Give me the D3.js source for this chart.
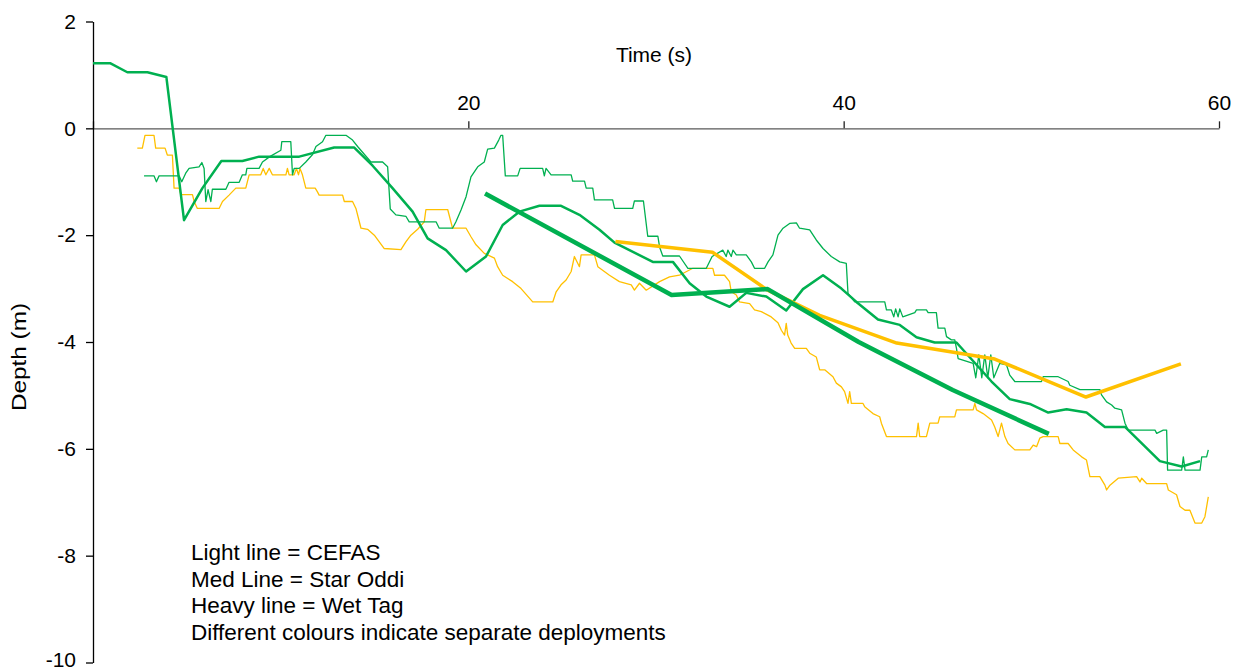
<!DOCTYPE html>
<html>
<head>
<meta charset="utf-8">
<script src="https://cdn.jsdelivr.net/npm/d3@7"></script>
<style>
    body { margin: 0; background: #fff; }
    svg text { font-family: 'Liberation Sans', Arial, sans-serif; fill: #000; }
</style>
</head>
<body>
<svg id="chart" width="1233" height="671"></svg>
<script>
// time (s), depth (m) pairs
const greenCefas = [
    [2.72,-0.89],[3.25,-0.89],[3.38,-1.00],[3.52,-0.89],[4.59,-0.89],[4.73,-1.00],[4.94,-0.84],[5.12,-0.75],
    [5.65,-0.72],[5.80,-0.64],[5.92,-0.75],[6.01,-1.37],[6.13,-1.15],[6.28,-1.37],[6.36,-1.14],[7.08,-1.14],
    [7.25,-1.01],[7.79,-1.01],[7.96,-0.87],[8.14,-0.87],[8.20,-0.75],[8.85,-0.75],[9.03,-0.63],[9.42,-0.53],
    [10.01,-0.41],[10.06,-0.25],[10.54,-0.25],[10.63,-0.87],[10.72,-0.75],[10.99,-0.75],[11.34,-0.63],[11.70,-0.49],
    [11.88,-0.34],[12.23,-0.25],[12.41,-0.13],[13.48,-0.13],[13.83,-0.22],[14.10,-0.34],[14.81,-0.63],[15.43,-0.63],
    [15.70,-0.72],[15.84,-1.51],[16.14,-1.62],[16.68,-1.65],[16.85,-1.75],[18.28,-1.75],[18.45,-1.87],[19.16,-1.87],
    [19.34,-1.75],[19.61,-1.53],[19.88,-1.28],[20.14,-0.91],[20.50,-0.72],[20.85,-0.63],[21.03,-0.39],[21.39,-0.37],
    [21.62,-0.22],[21.74,-0.13],[21.83,-0.13],[21.97,-0.89],[22.63,-0.89],[22.76,-0.75],[23.96,-0.75],[24.05,-0.89],
    [24.14,-0.75],[24.41,-0.87],[25.48,-0.87],[25.56,-0.99],[26.19,-0.99],[26.28,-1.12],[26.63,-1.12],[26.72,-1.34],
    [27.69,-1.34],[27.79,-1.50],[28.76,-1.50],[28.85,-1.36],[29.33,-1.36],[29.56,-2.02],[30.10,-2.02],[30.19,-2.22],
    [30.36,-2.39],[31.25,-2.39],[31.70,-2.62],[32.68,-2.62],[32.99,-2.40],[33.56,-2.28],[33.74,-2.40],[33.83,-2.28],
    [34.01,-2.40],[34.10,-2.28],[34.28,-2.37],[34.81,-2.37],[35.08,-2.50],[35.25,-2.62],[35.79,-2.62],[35.97,-2.50],
    [36.23,-2.37],[36.50,-2.00],[36.77,-1.87],[37.12,-1.78],[37.48,-1.77],[37.65,-1.87],[38.19,-1.90],[38.54,-2.09],
    [38.90,-2.25],[39.34,-2.40],[39.79,-2.50],[40.14,-2.53],[40.23,-3.09],[40.59,-3.25],[42.19,-3.25],[42.28,-3.40],
    [42.54,-3.40],[42.67,-3.53],[42.77,-3.38],[42.90,-3.53],[42.99,-3.38],[43.15,-3.53],[43.79,-3.45],[43.88,-3.40],
    [44.41,-3.40],[44.50,-3.45],[44.94,-3.45],[45.03,-3.74],[45.39,-3.74],[45.48,-3.90],[45.74,-3.96],[45.92,-3.96],
    [46.01,-4.12],[46.10,-4.31],[46.90,-4.40],[47.04,-4.67],[47.20,-4.24],[47.36,-4.67],[47.52,-4.24],[47.68,-4.67],
    [47.84,-4.24],[48.00,-4.67],[48.32,-4.40],[48.68,-4.43],[48.85,-4.62],[49.12,-4.74],[50.54,-4.74],[50.63,-4.65],
    [51.43,-4.65],[51.96,-4.74],[52.05,-4.81],[52.59,-4.89],[53.65,-4.89],[53.74,-4.99],[54.01,-5.12],[54.28,-5.18],
    [54.45,-5.24],[54.81,-5.27],[54.99,-5.52],[55.16,-5.65],[56.59,-5.65],[56.68,-5.71],[57.03,-5.65],[57.21,-5.65],
    [57.26,-6.40],[58.01,-6.40],[58.10,-6.15],[58.19,-6.40],[58.99,-6.40],[59.08,-6.15],[59.34,-6.15],[59.43,-6.02]
];

const yellowCefas = [
    [2.36,-0.37],[2.63,-0.37],[2.77,-0.13],[3.25,-0.13],[3.34,-0.37],[3.84,-0.37],[3.96,-0.50],[4.23,-0.50],
    [4.32,-1.12],[4.59,-1.12],[4.68,-1.24],[5.30,-1.24],[5.39,-1.37],[5.56,-1.50],[6.72,-1.50],[6.90,-1.37],
    [7.25,-1.25],[7.61,-1.12],[8.14,-1.12],[8.32,-0.87],[8.94,-0.87],[9.07,-0.75],[9.21,-0.87],[9.39,-0.75],
    [9.56,-0.87],[10.28,-0.87],[10.36,-0.75],[10.45,-0.87],[10.72,-0.87],[10.84,-0.75],[10.95,-0.87],[11.03,-0.75],
    [11.16,-0.87],[11.34,-1.12],[11.84,-1.12],[11.96,-1.19],[12.05,-1.25],[13.30,-1.25],[13.39,-1.37],[13.83,-1.37],
    [14.01,-1.50],[14.28,-1.87],[14.63,-1.89],[14.99,-2.00],[15.52,-2.25],[16.41,-2.27],[16.68,-2.12],[16.94,-2.00],
    [17.30,-1.89],[17.65,-1.75],[17.74,-1.52],[18.90,-1.52],[19.16,-1.87],[19.88,-1.87],[20.14,-2.03],[20.41,-2.18],
    [20.85,-2.34],[21.39,-2.43],[21.56,-2.59],[21.83,-2.75],[22.36,-2.87],[22.81,-3.00],[23.43,-3.25],[24.50,-3.25],
    [24.68,-3.06],[24.94,-2.93],[25.21,-2.84],[25.48,-2.68],[25.65,-2.40],[25.92,-2.59],[26.01,-2.37],[26.72,-2.37],
    [26.90,-2.59],[27.52,-2.75],[28.05,-2.87],[28.68,-2.93],[28.85,-3.03],[29.12,-2.90],[29.48,-3.03],[30.19,-2.87],
    [30.72,-2.78],[31.25,-2.75],[31.96,-2.62],[33.03,-2.62],[33.12,-2.75],[33.65,-2.75],[33.92,-2.87],[34.01,-3.06],
    [34.28,-3.12],[34.45,-3.25],[34.99,-3.28],[35.25,-3.40],[35.61,-3.43],[36.14,-3.53],[36.50,-3.64],[36.68,-3.78],
    [36.85,-3.87],[36.94,-3.65],[37.02,-3.87],[37.20,-4.02],[37.39,-4.12],[38.01,-4.12],[38.19,-4.21],[38.54,-4.28],
    [38.72,-4.52],[38.99,-4.52],[39.43,-4.65],[39.61,-4.77],[39.88,-4.84],[40.05,-4.93],[40.23,-5.15],[40.32,-4.93],
    [40.41,-5.15],[41.03,-5.15],[41.12,-5.21],[41.56,-5.34],[41.92,-5.40],[42.01,-5.52],[42.28,-5.77],[43.88,-5.77],
    [43.97,-5.52],[44.05,-5.77],[44.41,-5.77],[44.59,-5.52],[45.03,-5.52],[45.12,-5.40],[45.92,-5.40],[46.01,-5.27],
    [46.90,-5.27],[46.99,-5.15],[47.08,-5.27],[47.43,-5.34],[47.88,-5.46],[48.05,-5.59],[48.23,-5.77],[48.41,-5.52],
    [48.59,-5.77],[48.76,-5.90],[49.12,-6.02],[49.92,-6.02],[50.10,-5.93],[50.28,-5.96],[50.45,-5.80],[50.63,-5.77],
    [51.43,-5.77],[51.52,-5.90],[51.96,-5.90],[52.23,-6.02],[52.68,-6.15],[52.94,-6.21],[53.12,-6.52],[53.65,-6.52],
    [53.92,-6.68],[54.01,-6.77],[54.19,-6.68],[54.63,-6.55],[55.61,-6.52],[55.79,-6.62],[55.88,-6.55],[56.14,-6.65],
    [57.21,-6.65],[57.30,-6.77],[57.74,-6.86],[57.92,-7.08],[58.19,-7.15],[58.45,-7.15],[58.72,-7.39],[59.08,-7.39],
    [59.25,-7.27],[59.43,-6.90]
];

const greenStarOddi = [
    [0,1.22],[0.91,1.22],[1.83,1.05],[2.90,1.05],[3.91,0.96],[4.85,-1.72],[5.83,-1.12],[6.84,-0.61],
    [7.96,-0.61],[8.85,-0.53],[10.99,-0.53],[12.85,-0.36],[13.92,-0.36],[14.90,-0.70],[15.96,-1.12],[17.03,-1.56],
    [17.83,-2.06],[18.81,-2.28],[19.88,-2.68],[20.94,-2.40],[21.83,-1.81],[22.72,-1.56],[23.79,-1.45],[24.94,-1.45],
    [25.92,-1.62],[26.99,-1.90],[27.79,-2.14],[29.83,-2.50],[30.90,-2.50],[31.79,-2.90],[32.68,-3.15],[33.92,-3.34],
    [34.81,-3.08],[35.88,-3.15],[36.94,-3.41],[37.83,-3.01],[38.90,-2.75],[39.88,-3.00],[40.68,-3.25],[41.83,-3.58],
    [42.99,-3.68],[43.88,-3.91],[44.85,-4.01],[46.01,-4.01],[47.88,-4.74],[48.85,-5.07],[49.92,-5.16],[50.90,-5.32],
    [51.88,-5.26],[52.94,-5.32],[53.92,-5.59],[54.99,-5.59],[56.85,-6.23],[58.01,-6.33],[58.99,-6.23]
];

const greenWetTag = [[20.89,-1.22],[30.83,-3.12],[35.95,-3.01],[40.80,-4.00],[45.81,-4.90],[50.93,-5.72]];
const yellowWetTag = [[27.84,-2.12],[33.01,-2.32],[35.95,-3.03],[38.72,-3.50],[42.83,-4.02],[48.05,-4.32],[52.91,-5.03],[57.97,-4.41]];

const xTicks = [0, 20, 40, 60];
const yTicks = [-10, -8, -6, -4, -2, 0, 2];
const notes = [
    "Light line = CEFAS",
    "Med Line = Star Oddi",
    "Heavy line = Wet Tag",
    "Different colours indicate separate deployments"
];

const green = "#00B050", yellow = "#FFC000";

const svg = d3.select("#chart");
const x = d3.scaleLinear().domain([0, 60]).range([93, 1219]);
const y = d3.scaleLinear().domain([-10, 2]).range([662.5, 21.5]);

// x axis sits at depth 0, ticks and labels above
const xAxis = svg.append("g")
    .attr("transform", `translate(0,${y(0)})`)
    .call(d3.axisTop(x).tickValues(xTicks).tickSize(7).tickSizeOuter(0).tickPadding(11)
        .tickFormat(d => d === 0 ? "" : String(d)));
xAxis.select(".domain").attr("stroke", "#595959").attr("stroke-width", 1.3);
xAxis.selectAll(".tick line").attr("stroke", "#222").attr("stroke-width", 1.3);
xAxis.selectAll(".tick text").attr("font-size", 21).attr("dy", 0);

const yAxis = svg.append("g")
    .attr("transform", `translate(${x(0)},0)`)
    .call(d3.axisLeft(y).tickValues(yTicks).tickSize(7).tickSizeOuter(0).tickPadding(10)
        .tickFormat(d => String(d)));
yAxis.select(".domain").attr("stroke", "#000").attr("stroke-width", 1.3);
yAxis.selectAll(".tick line").attr("stroke", "#000").attr("stroke-width", 1.3);
yAxis.selectAll(".tick text").attr("font-size", 21)
    .attr("dy", d => d === -10 ? "0.2em" : "0.32em");

svg.append("text")
    .attr("x", 654).attr("y", 62)
    .attr("text-anchor", "middle")
    .attr("font-size", 21)
    .text("Time (s)");

svg.append("text")
    .attr("transform", "translate(26,357) rotate(-90)")
    .attr("text-anchor", "middle")
    .attr("font-size", 20)
    .attr("textLength", 108)
    .attr("lengthAdjust", "spacingAndGlyphs")
    .text("Depth (m)");

const line = d3.line().x(d => x(d[0])).y(d => y(d[1]));

const series = [
    { data: yellowCefas, color: yellow, width: 1.3 },
    { data: greenCefas, color: green, width: 1.3 },
    { data: greenStarOddi, color: green, width: 2.5 },
    { data: yellowWetTag, color: yellow, width: 3.5 },
    { data: greenWetTag, color: green, width: 4.5 }
];

svg.selectAll(".series")
    .data(series)
    .enter().append("path")
    .attr("class", "series")
    .attr("d", d => line(d.data))
    .attr("fill", "none")
    .attr("stroke", d => d.color)
    .attr("stroke-width", d => d.width)
    .attr("stroke-linejoin", "round");

svg.selectAll(".note")
    .data(notes)
    .enter().append("text")
    .attr("class", "note")
    .attr("x", 191)
    .attr("y", (d, i) => 560 + i * 26.6)
    .attr("font-size", 22.5)
    .text(d => d);
</script>
</body>
</html>
